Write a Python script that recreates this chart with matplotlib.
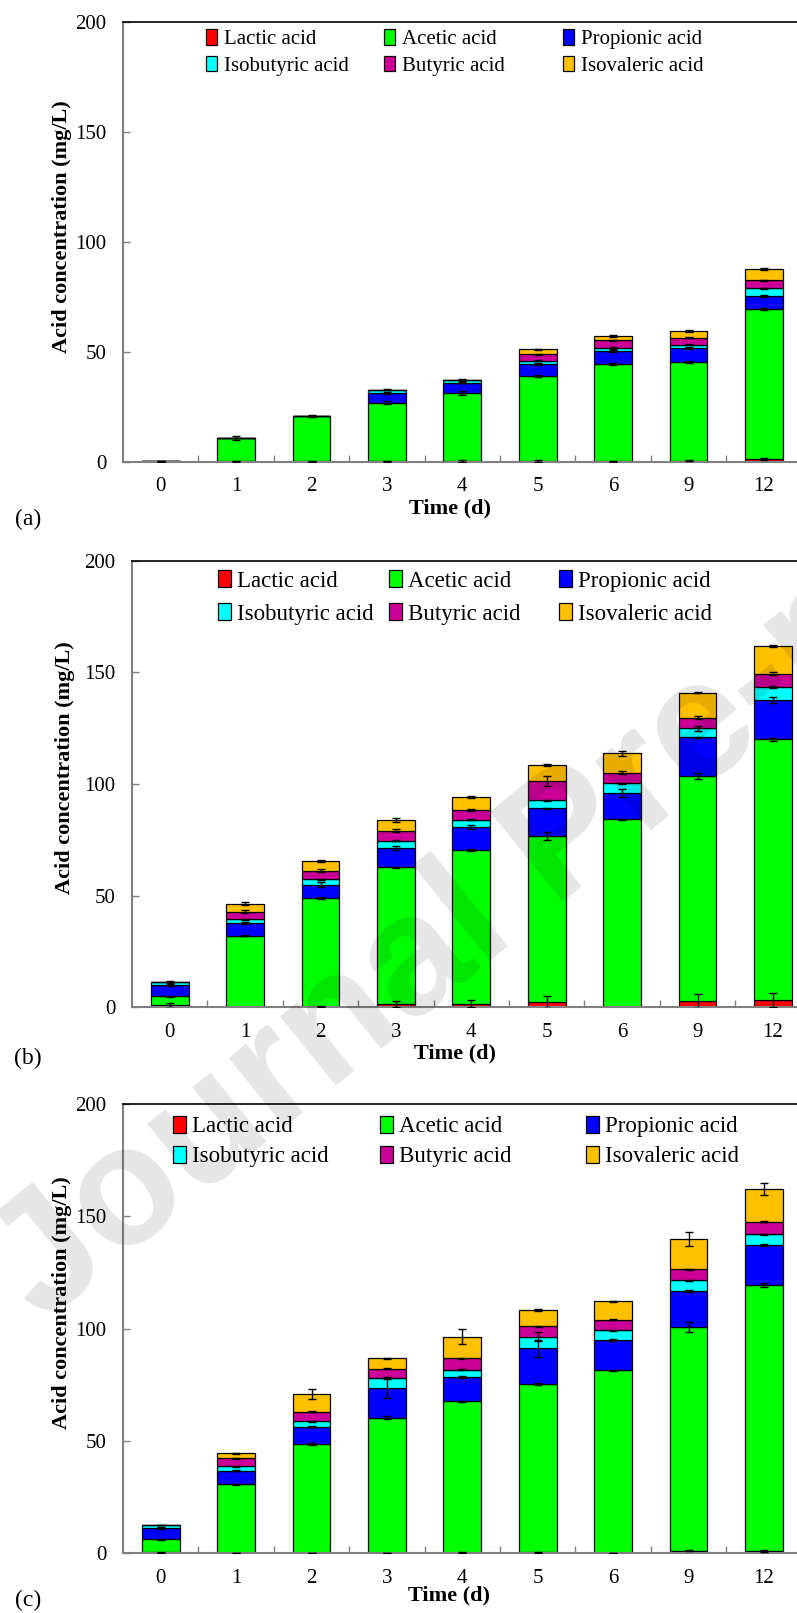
import matplotlib
matplotlib.use("Agg")
import matplotlib.pyplot as plt
import numpy as np

plt.rcParams['font.family'] = ['Liberation Serif', 'DejaVu Serif']

# ---- data (mg/L), stacked bottom -> top ----
days = ['0', '1', '2', '3', '4', '5', '6', '9', '12']
acids = ['Lactic acid', 'Acetic acid', 'Propionic acid',
         'Isobutyric acid', 'Butyric acid', 'Isovaleric acid']
colors = ['#FF0000', '#00FF00', '#0000FF', '#00FFFF', '#CC0099', '#FFC000']

# panel (a)
a_lactic = [0.1, 0.3, 0.3, 0.3, 0.5, 0.4, 0.3, 0.6, 1.5]
a_acetic = [0.2, 10.8, 20.5, 26.7, 30.9, 38.8, 44.2, 44.9, 68.2]
a_propionic = [0, 0, 0, 4.4, 4.7, 5.5, 5.8, 6.3, 5.9]
a_isobutyric = [0, 0, 0, 1.5, 1.2, 1.4, 1.5, 1.5, 3.3]
a_butyric = [0, 0, 0, 0, 0, 2.8, 3.5, 3.2, 3.7]
a_isovaleric = [0, 0, 0, 0, 0, 2.3, 2.0, 2.9, 5.1]
a_lactic_err = [0.2, 0.3, 0.3, 0.3, 0.3, 0.3, 0.3, 0.3, 0.4]
a_acetic_err = [0.2, 0.9, 0.4, 0.6, 0.9, 0.4, 0.6, 0.4, 0.5]
a_propionic_err = [0, 0, 0, 0.4, 0.3, 0.4, 0.4, 0.4, 0.4]
a_isobutyric_err = [0, 0, 0, 0.3, 0.3, 0.3, 0.3, 0.3, 0.4]
a_butyric_err = [0, 0, 0, 0, 0, 0.3, 0.3, 0.3, 0.3]
a_isovaleric_err = [0, 0, 0, 0, 0, 0.3, 0.3, 0.4, 0.3]

# panel (b)
b_lactic = [0.9, 0.0, 0.3, 1.5, 1.6, 2.4, 0.0, 2.8, 3.3]
b_acetic = [4.0, 32.1, 48.7, 61.2, 68.8, 74.3, 84.2, 100.8, 116.7]
b_propionic = [5.2, 5.5, 5.9, 8.6, 10.3, 12.3, 11.8, 17.3, 17.5]
b_isobutyric = [1.2, 1.8, 2.4, 3.3, 3.3, 3.7, 4.3, 4.0, 5.8]
b_butyric = [0, 3.4, 3.9, 4.5, 4.2, 8.6, 4.8, 4.8, 6.0]
b_isovaleric = [0, 3.6, 4.2, 4.6, 5.8, 7.1, 8.6, 11.2, 12.4]
b_lactic_err = [1.0, 0, 0.3, 1.5, 1.5, 2.7, 0, 3.0, 3.0]
b_acetic_err = [0.3, 0.4, 0.4, 0.3, 0.3, 1.6, 0.3, 1.4, 0.6]
b_propionic_err = [0.4, 0.4, 1.2, 0.9, 1.1, 0.3, 1.9, 0.3, 1.4]
b_isobutyric_err = [0.3, 0.3, 0.3, 0.3, 0.3, 0.3, 0.3, 1.0, 0.3]
b_butyric_err = [0, 0.7, 0.8, 0.5, 0.5, 2.2, 0.5, 0.7, 0.6]
b_isovaleric_err = [0, 0.6, 0.4, 0.9, 0.4, 0.5, 1.0, 0.4, 0.4]

# panel (c)
c_lactic = [0.4, 0.1, 0.1, 0.1, 0.2, 0.5, 0.1, 1.2, 1.2]
c_acetic = [5.8, 30.6, 48.5, 60.3, 67.5, 74.9, 81.4, 99.5, 118.3]
c_propionic = [5.1, 6.1, 7.8, 13.1, 10.8, 15.8, 13.5, 16.0, 17.8]
c_isobutyric = [1.3, 2.0, 2.4, 4.7, 3.3, 5.3, 4.2, 4.9, 4.7]
c_butyric = [0, 3.5, 4.2, 3.9, 5.1, 4.6, 4.7, 4.9, 5.6]
c_isovaleric = [0, 2.2, 7.8, 4.8, 9.5, 7.2, 8.3, 13.4, 14.5]
c_lactic_err = [0.2, 0.1, 0.1, 0.1, 0.2, 0.3, 0.1, 0.3, 0.4]
c_acetic_err = [0.3, 0.3, 0.4, 0.5, 0.3, 0.5, 0.3, 2.4, 0.8]
c_propionic_err = [0.3, 0.3, 0.3, 4.2, 0.3, 3.8, 0.3, 0.3, 0.3]
c_isobutyric_err = [0.2, 0.2, 0.2, 0.2, 0.2, 2.0, 0.2, 0.2, 0.2]
c_butyric_err = [0, 0.2, 0.2, 0.2, 0.2, 0.2, 0.2, 0.2, 0.2]
c_isovaleric_err = [0, 0.2, 2.2, 0.2, 3.4, 0.3, 0.3, 3.0, 2.6]

W, H = 797, 1613
fig = plt.figure(figsize=(W / 100, H / 100), dpi=100)

panels = [
    dict(label='(a)', left=123, top=22, bottom=462,
         series=[a_lactic, a_acetic, a_propionic, a_isobutyric, a_butyric, a_isovaleric],
         errors=[a_lactic_err, a_acetic_err, a_propionic_err, a_isobutyric_err, a_butyric_err, a_isovaleric_err],
         leg_x=[206, 384, 563], leg_y=(39, 66), leg_fs=15, leg_ls=0.3,
         ylab_xy=(62, 227), xlab_xy=(450, 508), tag_y=519),
    dict(label='(b)', left=132, top=560.5, bottom=1007.3,
         series=[b_lactic, b_acetic, b_propionic, b_isobutyric, b_butyric, b_isovaleric],
         errors=[b_lactic_err, b_acetic_err, b_propionic_err, b_isobutyric_err, b_butyric_err, b_isovaleric_err],
         leg_x=[218, 389, 559], leg_y=(580, 615), leg_fs=16.5, leg_ls=0.5,
         ylab_xy=(65, 768), xlab_xy=(455, 1053), tag_y=1058),
    dict(label='(c)', left=123, top=1104, bottom=1553.3,
         series=[c_lactic, c_acetic, c_propionic, c_isobutyric, c_butyric, c_isovaleric],
         errors=[c_lactic_err, c_acetic_err, c_propionic_err, c_isobutyric_err, c_butyric_err, c_isovaleric_err],
         leg_x=[173, 380, 586], leg_y=(1126, 1157), leg_fs=16.5, leg_ls=0.38,
         ylab_xy=(62, 1303), xlab_xy=(449, 1595), tag_y=1600),
]

step = 75.4  # px per category
x = np.arange(len(days))

for p in panels:
    ax = fig.add_axes([p['left'] / W, 1 - p['bottom'] / H,
                       9 * step / W, (p['bottom'] - p['top']) / H])
    bottom = np.zeros(len(days))
    handles = []
    for name, col, vals, err in zip(acids, colors, p['series'], p['errors']):
        vals = np.array(vals, dtype=float)
        err = np.array(err, dtype=float)
        h = ax.bar(x, vals, 0.5, bottom=bottom, color=col, edgecolor='black',
                   linewidth=0.9, label=name, zorder=2)
        handles.append(h)
        tops = bottom + vals
        m = err > 0
        ax.errorbar(x[m], tops[m], yerr=err[m], fmt='none', ecolor='black',
                    elinewidth=1, capsize=3, capthick=1, zorder=3)
        bottom = tops

    ax.set_xlim(-0.5, 8.5)
    ax.set_ylim(0, 200)
    ax.set_yticks([0, 50, 100, 150, 200])
    ax.set_xticks(x)
    ax.set_xticklabels(days)
    ax.set_xticks(np.arange(0.5, 8.5, 1), minor=True)
    ax.tick_params(axis='x', which='major', length=0, pad=11, labelsize=15)
    ax.tick_params(axis='x', which='minor', direction='in', length=5,
                   width=1, color='#808080')
    ax.tick_params(axis='y', direction='in', length=5, width=1,
                   color='#808080', pad=12, labelsize=15)
    for s in ['left', 'bottom']:
        ax.spines[s].set_color('#808080')
        ax.spines[s].set_linewidth(1.5)
    ax.spines['top'].set_color('black')
    ax.spines['top'].set_linewidth(1.2)
    ax.spines['right'].set_visible(False)

    # axis labels placed as in the reference
    fig.text(p['ylab_xy'][0] / W, 1 - p['ylab_xy'][1] / H,
             'Acid concentration (mg/L)', rotation=90, ha='center',
             va='center', fontsize=16, fontweight='bold')
    fig.text(p['xlab_xy'][0] / W, 1 - p['xlab_xy'][1] / H, 'Time (d)',
             ha='center', va='center', fontsize=16, fontweight='bold')
    fig.text(28 / W, 1 - p['tag_y'] / H, p['label'], ha='center',
             va='center', fontsize=17)

    # legend: three columns, each a small 2-row legend
    ymid = 1 - (p['leg_y'][0] + p['leg_y'][1]) / 2 / H
    for j in range(3):
        fig.legend(handles=[handles[j], handles[j + 3]],
                   loc='center left',
                   bbox_to_anchor=(p['leg_x'][j] / W, ymid),
                   bbox_transform=fig.transFigure, frameon=False,
                   fontsize=p['leg_fs'], handlelength=0.55,
                   handleheight=0.75, handletextpad=0.3,
                   labelspacing=p['leg_ls'], borderpad=0,
                   borderaxespad=0)

# watermark
fig.text(567 / W, 1 - 842 / H, 'Journal Pre-proof', rotation=39,
         ha='center', va='center', fontsize=122, fontweight='bold',
         color='black', alpha=0.1, family='Liberation Sans',
         rotation_mode='anchor')

fig.savefig('out.png', dpi=100)
